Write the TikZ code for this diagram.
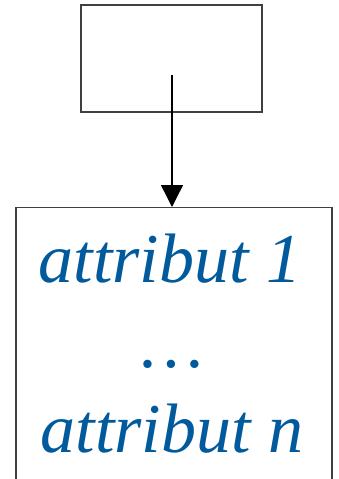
\documentclass[tikz,border=0pt]{standalone}
\usepackage{fontspec}
\setmainfont{Liberation Serif}
\usetikzlibrary{arrows.meta,positioning}
\definecolor{attrblue}{RGB}{0,90,156}
\newcommand{\attrsize}{\fontsize{70}{84}\selectfont\itshape}

\begin{document}
\begin{tikzpicture}[x=1pt,y=-1pt,
    box/.style={draw=black!75,line width=1.1pt,inner sep=0pt},
    attr/.style={text=attrblue,font=\attrsize,inner sep=0pt,anchor=base}]

        % Fix the size of the picture
        \useasboundingbox (0,0) rectangle (338,479);
        \clip (0,0) rectangle (338,479);

        % Draw the two boxes
        \node[box,minimum width=181pt,minimum height=107pt] (entity) at (171.5,58.5) {};
        \node[box,minimum width=316pt,minimum height=330pt,anchor=north] (attrs) at (174,207) {};

        % Attributes inside the lower box
        \node[attr] (first) at (170,282) {attribut 1};
        \node[attr] (dots) at (173,367) {\ldots};
        \node[attr] (last) at (172,452) {attribut n};

        % Arrow from inside the upper box down to the lower box
        \coordinate (start) at (172,75);
        \draw[-{Triangle[width=22pt,length=22pt]},line width=1.4pt] (start) -- (start |- attrs.north);
    \end{tikzpicture}
\end{document}
